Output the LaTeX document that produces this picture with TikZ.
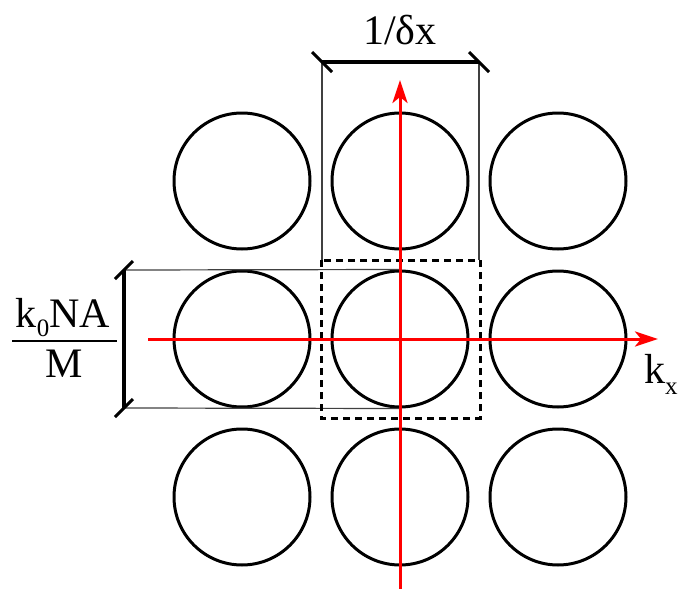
\documentclass[tikz,border=0pt]{standalone}
\usepackage{fontspec}
\setmainfont{Liberation Serif}
\usetikzlibrary{arrows.meta}
\newcommand{\bigfont}{\fontsize{42}{46}\selectfont}
\newcommand{\subfont}{\fontsize{25}{27}\selectfont}
\begin{document}
\begin{tikzpicture}[x=1pt,y=-1pt,
  spot/.style={circle,draw,line width=3pt,minimum size=136pt,inner sep=0pt},
  axis/.style={red,line width=3pt,-{Stealth[length=23pt,width=15pt,inset=6pt]}},
  dimline/.style={line width=3.5pt},
  tickmark/.style={line width=3pt},
  guide/.style={line width=1.2pt,black!75},
  cell/.style={line width=3pt,dash pattern=on 7pt off 5pt},
  lbl/.style={font=\bigfont,inner sep=0pt}]
\useasboundingbox (0,0) rectangle (681,589);
% circles
\foreach \i/\x in {0/242,1/400,2/558}
  \foreach \j/\y in {0/181,1/339,2/497}
    \node[spot] (c\i\j) at (\x,\y) {};
% guide lines
\coordinate (tl) at (322,62);
\coordinate (tr) at (479,62);
\coordinate (tlb) at (322,260);
\coordinate (trb) at (479,260);
\coordinate (lt) at (124,270);
\coordinate (lb) at (124,408);
\draw[guide] (tl) -- (tlb);
\draw[guide] (tr) -- (trb);
\draw[guide] (lt) -- (c11.north);
\draw[guide] (lb) -- (c11.south);
% dashed cell
\draw[cell] (321,260) rectangle (480,418);
% dimension lines
\draw[dimline] (tl) -- (tr);
\draw[tickmark] ([shift={(-10,-10)}]tl) -- ([shift={(10,10)}]tl);
\draw[tickmark] ([shift={(-10,-10)}]tr) -- ([shift={(10,10)}]tr);
\draw[dimline] (lt) -- (lb);
\draw[tickmark] ([shift={(-9,9)}]lt) -- ([shift={(9,-9)}]lt);
\draw[tickmark] ([shift={(-9,9)}]lb) -- ([shift={(9,-9)}]lb);
% axes
\coordinate (xs) at (148,339);
\coordinate (xe) at (658,339);
\coordinate (ys) at (400,589);
\coordinate (ye) at (400,80);
\draw[axis] (xs) -- (xe);
\draw[axis] (ys) -- (ye);
% labels
\node[lbl,anchor=base] (dx) at (400,45) {1/δx};
\node[lbl,anchor=base west] (kx) at (644,383) {k\raisebox{-11pt}{\subfont x}};
\node[lbl,anchor=base] (num) at (63,327) {k\raisebox{-9pt}{\subfont 0}NA};
\node[lbl,anchor=base] (den) at (64,377) {M};
\draw[line width=2.5pt] (12,341) -- (117,341);
\end{tikzpicture}
\end{document}
